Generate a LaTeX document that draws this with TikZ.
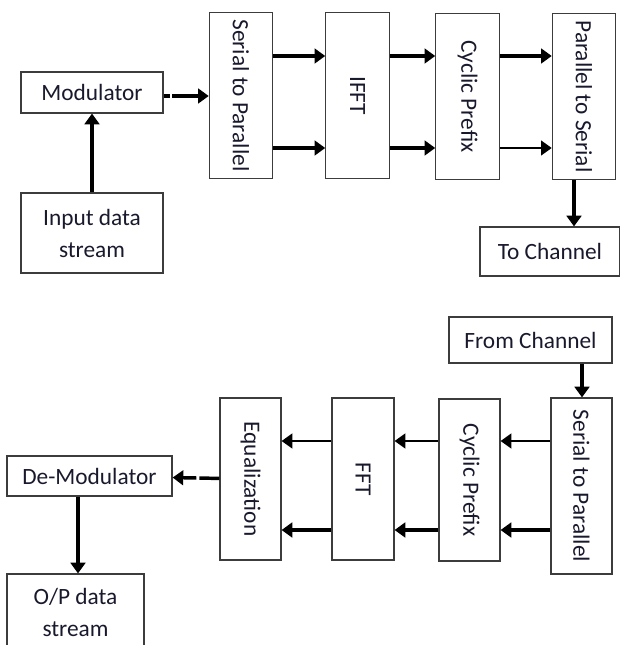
\documentclass[tikz,border=0pt]{standalone}
\usepackage{fontspec}
\usepackage{graphicx}
\setmainfont{Carlito}
\usetikzlibrary{arrows.meta}
\definecolor{boxline}{RGB}{60,60,60}
\definecolor{txt}{RGB}{25,25,45}
\newcommand{\vlab}[1]{\rotatebox{-90}{#1}}

\begin{document}
\begin{tikzpicture}
  [x=0.75pt,y=-0.75pt,
   every node/.style={draw=boxline,line width=0.9pt,inner sep=0pt,text=txt,
     font=\fontsize{17.5}{24}\selectfont,align=center},
   tall/.style={minimum width=47.5pt,minimum height=125pt},
   thk/.style={line width=2.6pt,-{Triangle[length=8pt,width=11pt]}},
   thn/.style={line width=1.6pt,-{Triangle[length=8pt,width=11pt]}}]
  \useasboundingbox (0,0) rectangle (619,645);

  % transmitter
  \node[minimum width=106.5pt,minimum height=30.75pt] (mod) at (92,92.5) {Modulator};
  \node[minimum width=106.5pt,minimum height=60pt] (inp) at (92,233) {Input data\\stream};
  \node[tall] (s2p) at (241,95.5) {\vlab{Serial to Parallel}};
  \node[tall] (ifft) at (357.5,95.5) {\vlab{IFFT}};
  \node[tall] (cp) at (467.5,96.5) {\vlab{Cyclic Prefix}};
  \node[tall] (p2s) at (584,96.5) {\vlab{Parallel to Serial}};
  \node[minimum width=105pt,minimum height=36.75pt] (toch) at (550,251.5) {To Channel};

  % receiver
  \node[minimum width=122.25pt,minimum height=34.5pt] (fromch) at (530.5,340) {From Channel};
  \node[minimum width=45.75pt,minimum height=132pt] (rs2p) at (581.5,486) {\vlab{Serial to Parallel}};
  \node[minimum width=45.75pt,minimum height=121.5pt] (rcp) at (469.5,480) {\vlab{Cyclic Prefix}};
  \node[minimum width=46.5pt,minimum height=121.5pt] (fft) at (363,479) {\vlab{FFT}};
  \node[minimum width=45.75pt,minimum height=121.5pt] (eq) at (250.5,479) {\vlab{Equalization}};
  \node[minimum width=123.75pt,minimum height=30pt] (demod) at (89.5,476) {De-Modulator};
  \node[minimum width=102.75pt,minimum height=57pt] (outp) at (75.5,612) {O/P data\\stream};

  \coordinate (my) at (0,96);
  \coordinate (hi) at (0,56);
  \coordinate (lo) at (0,148);
  \coordinate (tx) at (574,0);
  \coordinate (rx) at (582,0);
  \coordinate (rhi) at (0,441);
  \coordinate (rlo) at (0,530);
  \coordinate (dx) at (78,0);

  \draw[thk] (inp) -- (mod);
  \draw[thk,dash pattern={on 4.5pt off 2pt on 100pt}] (mod.east |- my) -- (s2p.west |- my);
  \foreach \a/\b/\s in {s2p/ifft/thk,ifft/cp/thk,cp/p2s/thk}
    \draw[\s] (\a.east |- hi) -- (\b.west |- hi);
  \foreach \a/\b/\s in {s2p/ifft/thk,ifft/cp/thk,cp/p2s/thn}
    \draw[\s] (\a.east |- lo) -- (\b.west |- lo);
  \draw[thk] (p2s.south -| tx) -- (toch.north -| tx);

  \draw[thk] (fromch.south -| rx) -- (rs2p.north -| rx);
  \foreach \a/\b/\s in {rs2p/rcp/thn,rcp/fft/thn,fft/eq/thn}
    \draw[\s] (\a.west |- rhi) -- (\b.east |- rhi);
  \foreach \a/\b/\s in {rs2p/rcp/thk,rcp/fft/thk,fft/eq/thk}
    \draw[\s] (\a.west |- rlo) -- (\b.east |- rlo);
  \draw[thk,dash pattern={on 15pt off 2.25pt on 100pt}] (eq) -- (demod);
  \draw[thk] (demod.south -| dx) -- (outp.north -| dx);

\end{tikzpicture}
\end{document}
